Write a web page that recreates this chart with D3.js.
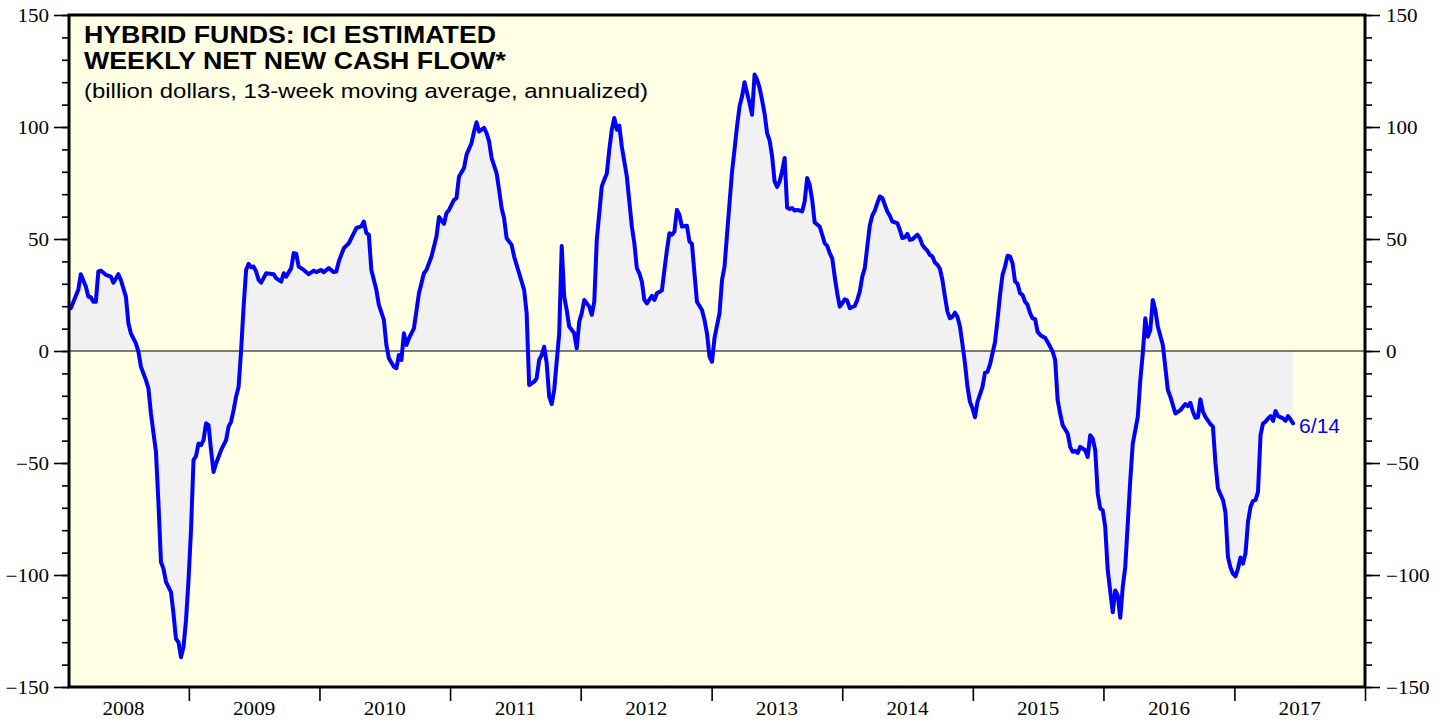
<!DOCTYPE html>
<html><head><meta charset="utf-8">
<script src="https://cdn.jsdelivr.net/npm/d3@7"></script>
<style>body{margin:0;background:#fff;} svg{display:block}</style>
</head><body>
<svg id="chart" width="1440" height="721"></svg>
<script>
// ---------- data ----------
const titleLines = ["HYBRID FUNDS: ICI ESTIMATED", "WEEKLY NET NEW CASH FLOW*"];
const subtitle = "(billion dollars, 13-week moving average, annualized)";
const firstWeek = "2008-02-06";          // first weekly observation (Wednesday)
const lastLabel = "6/14";
// week number since firstWeek
const weeks = [0,3,4,6,7,8,9,10,11,12,14,16,17,19,20,22,23,24,26,27,28,30,31,32,34,35,36,37,38,40,41,42,43,44,45,46,47,48,49,50,51,52,53,54,55,56,57,58,60,62,63,64,65,66,67,68,69,70,71,72,73,74,75,76,78,81,82,84,85,86,88,89,90,91,93,95,97,98,100,101,103,105,106,107,109,111,113,114,116,117,118,119,120,122,123,125,126,127,129,130,131,132,133,134,135,137,139,141,142,144,146,147,149,150,151,153,154,155,157,158,160,161,162,163,165,166,167,168,170,171,172,173,174,176,177,179,181,182,183,185,186,187,188,189,190,191,192,193,195,196,197,198,199,201,202,203,204,205,207,208,209,210,212,213,214,215,216,217,218,219,220,222,224,225,226,227,228,229,230,232,233,234,236,237,238,239,240,241,242,243,244,246,247,248,249,250,252,253,254,255,256,257,259,260,261,262,263,264,265,266,267,268,269,270,271,272,273,274,275,276,277,278,279,280,281,282,283,284,285,286,287,288,289,290,291,292,293,294,295,296,297,299,300,301,302,303,304,305,306,307,308,309,310,311,313,314,315,316,317,318,319,320,321,322,323,324,325,326,327,328,330,331,332,333,334,335,336,338,339,340,341,342,343,344,345,346,347,348,349,350,351,352,353,354,355,356,357,358,359,360,361,362,364,365,366,367,368,369,370,371,372,373,374,375,376,377,378,379,380,381,382,383,384,385,386,387,388,389,391,392,393,394,395,396,398,399,400,401,402,403,405,406,407,408,409,410,411,412,413,414,416,417,418,419,420,421,423,424,426,427,428,429,430,431,432,433,434,436,438,439,441,443,445,446,447,448,449,450,451,452,453,455,456,457,458,459,460,461,462,463,464,465,466,467,468,469,470,471,472,473,474,475,476,477,478,479,480,481,482,484,485,486,487,488];
// billion dollars, 13-week moving average, annualized
const flows = [19.1,27.3,34.3,28.8,24.3,24,22,22,35.5,35.9,34,33.2,30.5,34.3,31.7,24.3,12.4,7.9,3.4,-0.3,-7,-13,-16.7,-28,-45,-68,-94.2,-97.2,-103.1,-107.6,-117.3,-128.5,-130,-136.7,-132.2,-120.3,-102.4,-80,-48.7,-46.9,-41.3,-42,-39.8,-32.3,-33.1,-44.3,-54,-50.2,-44.3,-39.8,-33.8,-31.6,-26.4,-20.4,-16,0.4,19.8,36.2,38.9,37.4,37.7,35.5,31.7,30.5,34.7,34.3,32.5,31,34.7,33.2,37,43.7,43.4,37.7,36.2,34.3,35.9,35.2,36.2,35.2,37,35.2,35.5,40,45.9,48.1,52.6,54.9,55.6,57.8,52.6,51.9,36.2,27.3,20.6,13.9,2.7,-3.3,-7,-7.7,-1.8,-4,7.9,2.7,5.7,10.1,25.8,34.7,36.2,42.2,51.1,59.8,56.8,61.6,63,67.5,68.3,77.9,81.7,87.6,92.9,98,102.1,98,99.6,97.3,93.6,86.2,79.4,72,63.8,59.3,50.4,47.4,42.2,34.7,27.3,16.9,-15.2,-13.7,-12.2,-4,-1.8,1.9,-5.5,-20.4,-23.7,-17.4,7.9,46.9,24.3,18.3,10.9,7.9,1.2,13.1,16.9,22.8,19.8,16.1,22,49.6,73.5,76.5,79.1,89.9,98.8,104,98.8,100.6,91.3,77.9,55.6,48.1,37,34.7,31,22.8,21.3,24.6,22.8,25.8,27,36.2,45,52.6,51.9,53.3,63,60.8,55.6,55.9,48.9,47.8,34.7,22,18.3,13.9,7.9,-2.5,-4.8,5.7,16.9,31.7,37.7,52,66,80,90,100.3,109.2,113.7,120,115.2,110.7,105.5,123.4,121.2,117.5,112,106,97.3,94,87,75.7,73.2,75.7,80.2,86.2,64,63.4,63.8,62.7,63,62.7,62.3,66.8,77.2,74.2,67.5,57.4,55.6,51.9,48.1,46.9,43.7,41.4,33.2,25.8,19.8,21.3,23.1,22.5,19.1,20.1,22.8,26.5,33.2,37,46.6,56,60.5,62.7,66,69,68.3,65.3,62.3,60.4,57.8,57.1,54.1,50.4,50.7,52.3,49.6,49.9,51.9,50.4,47.4,45.9,44.8,42.9,42.2,39.5,38.5,36.7,31.7,24.3,17.6,14.6,15.3,17.1,15.3,10.9,3,-5.5,-16,-22.7,-25.6,-29.6,-22.7,-16,-9.7,-9.3,-6,-1,4,14,25,34,37.7,42.5,42.2,39.2,31,30,25.8,25,22,20.6,16.9,14.6,14.2,8.6,7.2,6.4,5.9,2,-0.3,-4,-21.9,-27.9,-33.1,-36.8,-42.8,-45,-44.6,-45.5,-42.8,-44.3,-47.3,-37.6,-39.1,-44.3,-63.6,-70.3,-71.1,-78.6,-97.9,-116.6,-106.9,-109.1,-119.1,-105.4,-96.4,-57.7,-41.3,-29.4,-13,-1,14.6,6.4,9.4,22.8,18.3,10.9,2.7,-17.4,-20.4,-27.9,-26.4,-23.7,-24.6,-23.1,-27.1,-29.8,-29.6,-21.6,-27.1,-29.4,-32.6,-33.8,-50,-61.4,-64,-66.5,-72,-92,-96.7,-99.4,-100.6,-97.2,-92.2,-94.9,-90.4,-76.3,-69.6,-66.9,-66.6,-62.9,-37.6,-32.3,-31.6,-30.1,-29.1,-31.2,-26.8,-29.1,-30.1,-31.2,-29.1,-30.6,-32.3];
const yMajorTicks = [-150,-100,-50,0,50,100,150];
const yMinorTicks = [-150,-140,-130,-120,-110,-100,-90,-80,-70,-60,-50,-40,-30,-20,-10,0,10,20,30,40,50,60,70,80,90,100,110,120,130,140,150];
const yearLabels = [2008,2009,2010,2011,2012,2013,2014,2015,2016,2017];
const yearBreaks = [2009,2010,2011,2012,2013,2014,2015,2016,2017,2018];
const xStart = "2008-02-01", xEnd = "2018-01-01";

// ---------- chart ----------
const parse = d3.timeParse("%Y-%m-%d");
const t0 = parse(firstWeek);
const data = weeks.map((w, i) => ({date: d3.timeDay.offset(t0, 7 * w), v: flows[i]}));

const L = 69, R = 1365, T = 15, B = 687;
const svg = d3.select("#chart");

const x = d3.scaleTime().domain([parse(xStart), parse(xEnd)]).range([L, R]);
const y = d3.scaleLinear().domain([-150, 150]).range([B, T]);

function stretch(sel, k) {
  sel.each(function () {
    const len = this.getComputedTextLength();
    this.setAttribute("textLength", len * k);
    this.setAttribute("lengthAdjust", "spacingAndGlyphs");
  });
}

// background
svg.append("rect").attr("x", L).attr("y", T).attr("width", R - L).attr("height", B - T)
  .attr("fill", "#ffffe3");

// area fill
const area = d3.area().x(d => x(d.date)).y0(y(0)).y1(d => y(d.v));
svg.append("path").datum(data).attr("d", area).attr("fill", "#f1f1f1");

// zero line
svg.append("line").attr("x1", L).attr("x2", R).attr("y1", y(0)).attr("y2", y(0))
  .attr("stroke", "#000").attr("stroke-width", 1.2);

// line
const line = d3.line().x(d => x(d.date)).y(d => y(d.v));
svg.append("path").datum(data).attr("d", line).attr("fill", "none")
  .attr("stroke", "#0000ff").attr("stroke-width", 4)
  .attr("stroke-linejoin", "round").attr("stroke-linecap", "round");

// last value label
const last = data[data.length - 1];
svg.append("text").attr("x", x(last.date) + 6).attr("y", y(last.v) + 10)
  .attr("fill", "#0000ff").attr("font-family", "Liberation Sans, Arial, sans-serif")
  .attr("font-size", 20).attr("textLength", 41).attr("lengthAdjust", "spacingAndGlyphs")
  .text(lastLabel);

// axes
const serif = "Liberation Serif, Times New Roman, serif";
function styleAxis(g) {
  g.select(".domain").remove();
  g.selectAll(".tick line").attr("stroke", "#000").attr("stroke-width", 1.6);
  g.selectAll("text").attr("font-family", serif).attr("font-size", 18).attr("fill", "#000");
}
// left
svg.append("g").attr("transform", `translate(${L},0)`)
  .call(d3.axisLeft(y).tickValues(yMinorTicks).tickSize(7).tickFormat(""))
  .call(styleAxis);
const gl = svg.append("g").attr("transform", `translate(${L},0)`)
  .call(d3.axisLeft(y).tickValues(yMajorTicks).tickSize(15).tickPadding(5).tickFormat(d3.format("d")))
  .call(styleAxis);
gl.selectAll("text").attr("dy", "0.34em");
stretch(gl.selectAll("text"), 1.17);
// right
svg.append("g").attr("transform", `translate(${R},0)`)
  .call(d3.axisRight(y).tickValues(yMinorTicks).tickSize(7).tickFormat(""))
  .call(styleAxis);
const gr = svg.append("g").attr("transform", `translate(${R},0)`)
  .call(d3.axisRight(y).tickValues(yMajorTicks).tickSize(15).tickPadding(6).tickFormat(d3.format("d")))
  .call(styleAxis);
gr.selectAll("text").attr("dy", "0.34em");
stretch(gr.selectAll("text"), 1.17);
// bottom
svg.append("g").attr("transform", `translate(0,${B})`)
  .call(d3.axisBottom(x).tickValues(yearBreaks.map(yr => new Date(yr, 0, 1))).tickSize(14).tickFormat(""))
  .call(styleAxis);
const gb = svg.append("g").attr("transform", `translate(0,${B})`)
  .call(d3.axisBottom(x).tickValues(yearLabels.map(yr => new Date(yr, 6, 1))).tickSize(0).tickPadding(15).tickFormat(d3.timeFormat("%Y")))
  .call(styleAxis);
stretch(gb.selectAll("text"), 1.17);

// frame
svg.append("rect").attr("x", L).attr("y", T).attr("width", R - L).attr("height", B - T)
  .attr("fill", "none").attr("stroke", "#000").attr("stroke-width", 3);

// titles
const sans = "Liberation Sans, Arial, Helvetica, sans-serif";
const titleWidths = [412, 422];
titleLines.forEach((s, i) => {
  svg.append("text").attr("x", 84).attr("y", 42.5 + i * 26.5)
    .attr("font-family", sans).attr("font-weight", "bold").attr("font-size", 24)
    .attr("fill", "#000").attr("textLength", titleWidths[i]).attr("lengthAdjust", "spacingAndGlyphs")
    .text(s);
});
svg.append("text").attr("x", 84).attr("y", 97.5)
  .attr("font-family", sans).attr("font-size", 20.5).attr("fill", "#000")
  .attr("textLength", 564).attr("lengthAdjust", "spacingAndGlyphs")
  .text(subtitle);
</script>
</body></html>
